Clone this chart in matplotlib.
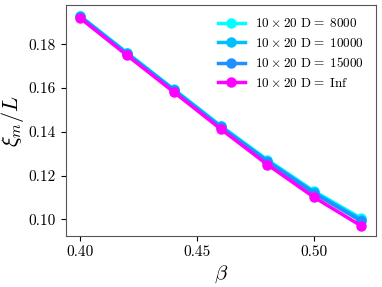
import matplotlib
matplotlib.use("Agg")
import matplotlib.pyplot as plt

plt.rcParams['font.family'] = 'serif'
plt.rcParams['font.serif'] = ['cmr10']
plt.rcParams['mathtext.fontset'] = 'cm'
plt.rcParams['axes.formatter.use_mathtext'] = True

beta = [0.40, 0.42, 0.44, 0.46, 0.48, 0.50, 0.52]
d8000 = [0.1930, 0.1762, 0.1595, 0.1428, 0.1272, 0.1128, 0.1005]
d10000 = [0.1928, 0.1759, 0.1592, 0.1425, 0.1268, 0.1123, 0.0998]
d15000 = [0.1926, 0.1757, 0.1590, 0.1422, 0.1264, 0.1118, 0.0992]
dinf = [0.1920, 0.1750, 0.1582, 0.1413, 0.1250, 0.1100, 0.0970]
labels = [r'$10\times20$ D$=$ $8000$', r'$10\times20$ D$=$ $10000$',
          r'$10\times20$ D$=$ Inf', ]
labels = [r'$10\times20$ D$=\ 8000$', r'$10\times20$ D$=\ 10000$',
          r'$10\times20$ D$=\ 15000$', r'$10\times20$ D$=\ \mathrm{Inf}$']
colors = ['#00FFFF', '#00BFFF', '#1E90FF', '#FF00FF']

fig = plt.figure(figsize=(3.82, 2.87), dpi=100)
ax = fig.add_axes([65.7/382, 1-236/287, (376-65.7)/382, (236-5.3)/287])
for ys, lab, c in zip([d8000, d10000, d15000, dinf], labels, colors):
    ax.plot(beta, ys, '-o', color=c, label=lab, lw=2.5, ms=6.5)

ax.set_xlim(0.3939, 0.5263)
ax.set_ylim(0.0924, 0.1978)
ax.set_xticks([0.40, 0.45, 0.50])
ax.set_xticklabels(['0.40', '0.45', '0.50'])
ax.set_yticks([0.10, 0.12, 0.14, 0.16, 0.18])
ax.set_yticklabels(['0.10', '0.12', '0.14', '0.16', '0.18'])
ax.tick_params(labelsize=11)
for s in ax.spines.values():
    s.set_color('#555555')
ax.set_xlabel(r'$\beta$', fontsize=15, labelpad=3)
ax.set_ylabel(r'$\xi_m/L$', fontsize=16, labelpad=2)
ax.legend(frameon=False, fontsize=9.5, loc='upper right', handlelength=2.0)
fig.savefig('out.png', dpi=100)
